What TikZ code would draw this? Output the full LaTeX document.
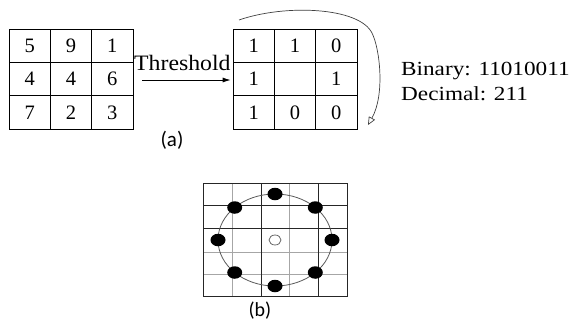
\documentclass[tikz,border=0pt]{standalone}
\usepackage{fontspec}
\usepackage{graphicx}
\setmainfont{Liberation Serif}
\newfontfamily\labfont{Carlito}
\usetikzlibrary{arrows.meta}
\tikzset{
  cell/.style={draw=black, line width=0.8pt, minimum width=41.33pt, minimum height=33.33pt,
    inner sep=0pt, font=\fontsize{20.5}{22}\selectfont},
  sublabel/.style={font=\labfont\fontsize{21}{23}\selectfont, inner sep=0pt},
  dot/.style={ellipse, fill=black, minimum width=15pt, minimum height=12.5pt, inner sep=0pt},
  hollow/.style={ellipse, draw=black!60, line width=0.8pt, minimum width=12pt, minimum height=10pt, inner sep=0pt},
  darkline/.style={draw=black!85, line width=0.8pt},
  grayline/.style={draw=black!35, line width=0.9pt},
}
\usetikzlibrary{shapes.geometric}
\begin{document}
\begin{tikzpicture}[x=1pt,y=-1pt]
\useasboundingbox (0,0) rectangle (577,325);
% left grid
\node[cell] (l11) at (29.67,45.67) {5};
\node[cell] (l12) at (71,45.67) {9};
\node[cell] (l13) at (112.33,45.67) {1};
\node[cell] (l21) at (29.67,79) {4};
\node[cell] (l22) at (71,79) {4};
\node[cell] (l23) at (112.33,79) {6};
\node[cell] (l31) at (29.67,112.33) {7};
\node[cell] (l32) at (71,112.33) {2};
\node[cell] (l33) at (112.33,112.33) {3};
% right grid
\node[cell] (r11) at (253.67,45.67) {1};
\node[cell] (r12) at (295,45.67) {1};
\node[cell] (r13) at (336.33,45.67) {0};
\node[cell] (r21) at (253.67,79) {1};
\node[cell] (r22) at (295,79) {};
\node[cell] (r23) at (336.33,79) {1};
\node[cell] (r31) at (253.67,112.33) {1};
\node[cell] (r32) at (295,112.33) {0};
\node[cell] (r33) at (336.33,112.33) {0};
% threshold arrow
\draw[line width=0.8pt, -{Latex[length=8pt,width=5pt]}] ([xshift=9pt,yshift=-1pt]l23.east) -- ([xshift=-2pt,yshift=-1pt]r21.west);
\node[anchor=base west, inner sep=0pt, font=\fontsize{22}{24}\selectfont] (thr) at (134,70.7) {\scalebox{1.08}[1]{Threshold}};
% binary / decimal
\node[anchor=base west, inner sep=0pt, font=\fontsize{20}{22}\selectfont] (bin) at (401,75.7) {\scalebox{1.16}[1]{Binary: 11010011}};
\node[anchor=base west, inner sep=0pt, font=\fontsize{20}{22}\selectfont] (dec) at (401,100) {\scalebox{1.16}[1]{Decimal: 211}};
% curved arrow
\coordinate (cs) at (239,20);
\coordinate (ce) at (368,125);
\draw[black!75, line width=0.7pt, -{Triangle[open,length=8pt,width=7pt]}]
  (cs) .. controls (285,4) and (359,7) .. (372,33) .. controls (380,49) and (385,95) .. (ce);
\node[sublabel] (la) at (172,140) {(a)};
% part (b) grid
\draw[grayline] (232,183) -- (232,296);
\draw[grayline] (289,183) -- (289,296);
\draw[grayline] (203,252) -- (347,252);
\draw[grayline] (203,274) -- (347,274);
\draw[darkline] (261,183) -- (261,296);
\draw[darkline] (318,183) -- (318,296);
\draw[darkline] (203,205) -- (347,205);
\draw[darkline] (203,228) -- (347,228);
\draw[darkline] (203,183) rectangle (347,296);
% circle and dots
\node[ellipse, draw=black!65, line width=0.8pt, minimum width=114pt, minimum height=92pt, inner sep=0pt] (ring) at (275,240) {};
\node[dot] (d1) at (275,194) {};
\node[dot] (d2) at (315.3,207.5) {};
\node[dot] (d3) at (332,240) {};
\node[dot] (d4) at (315.3,272.5) {};
\node[dot] (d5) at (275,286) {};
\node[dot] (d6) at (234.7,272.5) {};
\node[dot] (d7) at (218,240) {};
\node[dot] (d8) at (234.7,207.5) {};
\node[hollow] (c0) at (275,240) {};
\node[sublabel, font=\labfont\fontsize{20}{22}\selectfont] (lb) at (260,311) {(b)};
\end{tikzpicture}
\end{document}
